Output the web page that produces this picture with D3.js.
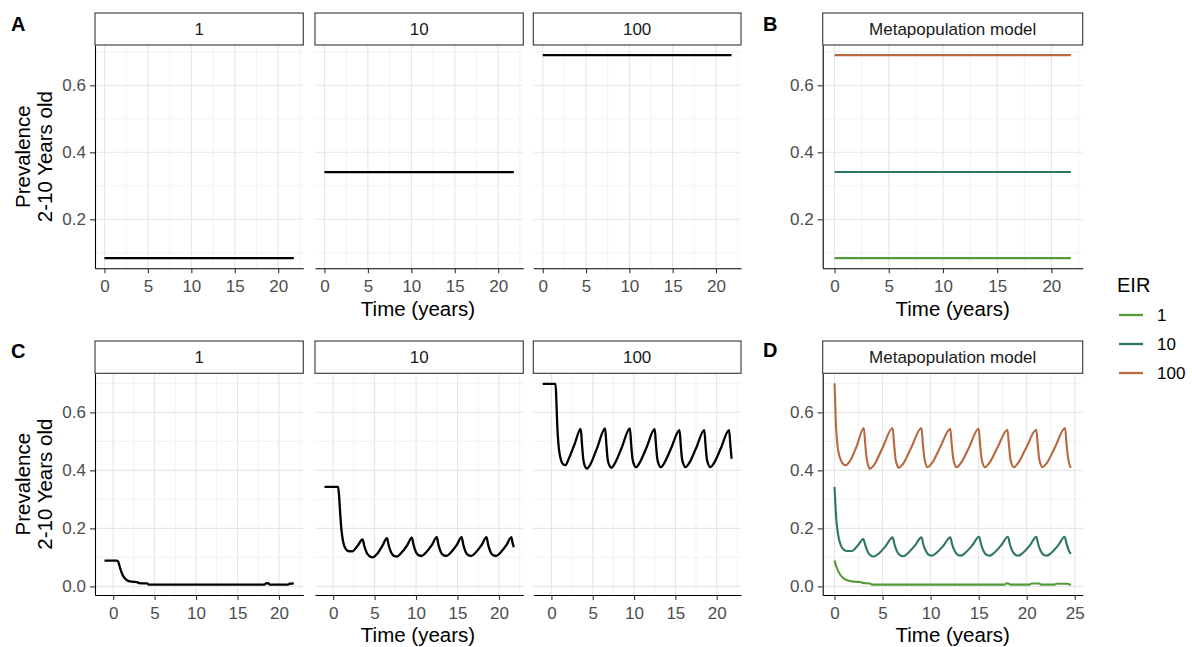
<!DOCTYPE html>
<html>
<head>
<meta charset="utf-8">
<script src="https://cdn.jsdelivr.net/npm/d3@7"></script>
<style>
  body { margin: 0; background: #ffffff; }
  svg text { font-family: "Liberation Sans", Arial, Helvetica, sans-serif; }
</style>
</head>
<body>
<svg id="chart" width="1192" height="647"></svg>
<script>
// ---------------- data ----------------
const eirLevels = ["1", "10", "100"];
const eirColours = ["#519b38", "#2c7662", "#b7683f"];

// equilibrium prevalence (2-10 years) for each EIR, before any intervention
const equilibriumPrev = [0.084, 0.341, 0.690];
const equilibriumSpan = [0, 21.8];

// individual-based model runs after the intervention starts: [time (years), prevalence]
const ind1 = [[-1.05,0.089],[0.5,0.089],[0.65,0.082],[0.85,0.062],[1.1,0.042],[1.4,0.028],[1.8,0.019],
  [2.3,0.016],[2.9,0.015],[3.1,0.011],[4.1,0.010],[4.3,0.006],[18.2,0.006],[18.45,0.010],[18.7,0.011],
  [18.9,0.006],[21.1,0.006],[21.3,0.009],[21.8,0.010]];

const ind10 = [[-1.05,0.343],[0.6,0.343],[0.72,0.31],[0.85,0.25],[1.0,0.195],[1.2,0.155],[1.45,0.132],
  [1.8,0.122],[2.3,0.121],[2.9,0.138],[3.55,0.162],
  [3.75,0.140],[4.05,0.116],[4.4,0.104],[4.8,0.100],[5.3,0.112],[5.9,0.138],[6.5,0.166],
  [6.7,0.142],[7.0,0.117],[7.35,0.105],[7.7,0.103],[8.2,0.115],[8.9,0.140],[9.5,0.168],
  [9.7,0.143],[10.0,0.118],[10.35,0.107],[10.7,0.105],[11.2,0.117],[11.9,0.142],[12.5,0.170],
  [12.7,0.144],[13.0,0.118],[13.35,0.107],[13.7,0.105],[14.2,0.117],[14.9,0.142],[15.5,0.170],
  [15.7,0.144],[16.0,0.118],[16.35,0.107],[16.7,0.105],[17.2,0.117],[17.9,0.142],[18.5,0.170],
  [18.7,0.144],[19.0,0.118],[19.35,0.107],[19.7,0.105],[20.2,0.117],[20.9,0.142],[21.5,0.170],
  [21.65,0.150],[21.8,0.135]];

const ind100 = [[-1.05,0.698],[0.5,0.698],[0.6,0.64],[0.7,0.56],[0.85,0.49],[1.0,0.455],[1.2,0.432],
  [1.45,0.420],[1.7,0.418],[2.1,0.44],[2.8,0.49],[3.55,0.543],
  [3.7,0.49],[3.85,0.44],[4.05,0.415],[4.3,0.406],[4.7,0.42],[5.5,0.475],[6.5,0.545],
  [6.65,0.49],[6.8,0.44],[7.0,0.418],[7.25,0.409],[7.65,0.423],[8.5,0.478],[9.5,0.545],
  [9.65,0.49],[9.8,0.442],[10.0,0.42],[10.25,0.411],[10.65,0.425],[11.5,0.478],[12.5,0.542],
  [12.65,0.49],[12.8,0.442],[13.0,0.42],[13.25,0.411],[13.65,0.425],[14.5,0.477],[15.5,0.539],
  [15.65,0.488],[15.8,0.441],[16.0,0.42],[16.25,0.411],[16.65,0.424],[17.5,0.476],[18.5,0.539],
  [18.65,0.488],[18.8,0.441],[19.0,0.42],[19.25,0.411],[19.65,0.424],[20.5,0.476],[21.5,0.539],
  [21.65,0.49],[21.8,0.44]];

// metapopulation model runs: [time (years), prevalence]
const meta1 = [[0,0.089],[0.15,0.072],[0.35,0.055],[0.6,0.04],[1.0,0.027],[1.5,0.019],[2.1,0.016],
  [2.7,0.015],[2.9,0.012],[3.7,0.010],[3.9,0.006],[17.7,0.006],[17.9,0.011],[18.1,0.010],[18.3,0.006],
  [20.3,0.006],[20.5,0.010],[21.3,0.010],[21.5,0.006],[22.9,0.006],[23.1,0.009],[24.2,0.009],[24.6,0.005]];

const meta10 = [[0,0.343],[0.08,0.29],[0.18,0.235],[0.3,0.195],[0.45,0.165],[0.65,0.142],[0.9,0.128],
  [1.3,0.122],[1.8,0.122],[2.4,0.14],[3.0,0.163],
  [3.2,0.142],[3.5,0.117],[3.8,0.106],[4.1,0.103],[4.6,0.113],[5.3,0.138],[6.05,0.169],
  [6.25,0.144],[6.55,0.118],[6.85,0.107],[7.15,0.104],[7.65,0.115],[8.35,0.14],[9.05,0.169],
  [9.25,0.144],[9.55,0.119],[9.85,0.108],[10.15,0.106],[10.65,0.117],[11.35,0.141],[12.05,0.169],
  [12.25,0.144],[12.55,0.119],[12.85,0.108],[13.15,0.106],[13.65,0.117],[14.35,0.142],[15.05,0.171],
  [15.25,0.145],[15.55,0.119],[15.85,0.108],[16.15,0.106],[16.65,0.117],[17.35,0.142],[18.05,0.171],
  [18.25,0.145],[18.55,0.119],[18.85,0.108],[19.15,0.106],[19.65,0.117],[20.35,0.142],[21.0,0.171],
  [21.2,0.145],[21.5,0.119],[21.8,0.108],[22.1,0.106],[22.6,0.117],[23.3,0.142],[23.95,0.171],
  [24.15,0.147],[24.4,0.122],[24.6,0.112]];

const meta100 = [[0,0.70],[0.05,0.66],[0.12,0.58],[0.22,0.52],[0.35,0.475],[0.55,0.445],[0.8,0.426],
  [1.15,0.418],[1.6,0.432],[2.3,0.483],[3.05,0.546],
  [3.2,0.49],[3.35,0.44],[3.5,0.418],[3.7,0.406],[4.1,0.418],[5.0,0.478],[6.05,0.546],
  [6.2,0.49],[6.35,0.44],[6.5,0.42],[6.7,0.409],[7.1,0.421],[8.0,0.48],[9.05,0.546],
  [9.2,0.49],[9.35,0.442],[9.5,0.421],[9.7,0.411],[10.1,0.423],[11.0,0.48],[12.05,0.543],
  [12.2,0.49],[12.35,0.442],[12.5,0.421],[12.7,0.411],[13.1,0.423],[14.0,0.479],[15.0,0.544],
  [15.15,0.49],[15.3,0.442],[15.45,0.421],[15.65,0.411],[16.05,0.423],[16.95,0.478],[18.0,0.54],
  [18.15,0.488],[18.3,0.441],[18.45,0.421],[18.65,0.411],[19.05,0.423],[19.95,0.478],[21.0,0.54],
  [21.15,0.488],[21.3,0.441],[21.45,0.421],[21.65,0.411],[22.05,0.423],[22.95,0.48],[24.0,0.546],
  [24.15,0.49],[24.3,0.445],[24.45,0.42],[24.6,0.409]];

// tick labels
const xTicksFacet = [0, 5, 10, 15, 20];
const xTicksMeta = [0, 5, 10, 15, 20, 25];
const yTicksTop = [0.2, 0.4, 0.6];
const yTicksBottom = [0.0, 0.2, 0.4, 0.6];

// ---------------- drawing ----------------
const svg = d3.select("#chart");

// ggplot-style 5% expansion of a data range
function expand(ext) {
  const w = ext[1] - ext[0];
  return [ext[0] - 0.05 * w, ext[1] + 0.05 * w];
}
// minor grid positions half-way between major breaks, kept inside the domain
function minorBreaks(ticks, domain) {
  const step = ticks[1] - ticks[0];
  const out = [];
  for (let v = ticks[0] - step / 2; v <= domain[1]; v += step) {
    if (v >= domain[0]) out.push(v);
  }
  return out;
}

const tickFont = 17, titleFont = 20.5;

function drawPanel(o) {
  const g = svg.append("g");
  const x = d3.scaleLinear().domain(o.xDomain).range([o.left, o.right]);
  const y = d3.scaleLinear().domain(o.yDomain).range([o.bottom, o.top]);

  const grid = g.append("g");
  grid.selectAll(".xmin").data(minorBreaks(o.xTicks, o.xDomain)).join("line")
    .attr("x1", d => x(d)).attr("x2", d => x(d)).attr("y1", o.top).attr("y2", o.bottom)
    .attr("stroke", "#efefef").attr("stroke-width", 0.8);
  grid.selectAll(".ymin").data(minorBreaks(o.yTicks, o.yDomain)).join("line")
    .attr("y1", d => y(d)).attr("y2", d => y(d)).attr("x1", o.left).attr("x2", o.right)
    .attr("stroke", "#efefef").attr("stroke-width", 0.8);
  grid.selectAll(".xmaj").data(o.xTicks).join("line")
    .attr("x1", d => x(d)).attr("x2", d => x(d)).attr("y1", o.top).attr("y2", o.bottom)
    .attr("stroke", "#e6e6e6").attr("stroke-width", 1.1);
  grid.selectAll(".ymaj").data(o.yTicks).join("line")
    .attr("y1", d => y(d)).attr("y2", d => y(d)).attr("x1", o.left).attr("x2", o.right)
    .attr("stroke", "#e6e6e6").attr("stroke-width", 1.1);

  const line = d3.line().x(d => x(d[0])).y(d => y(d[1])).curve(d3.curveMonotoneX);
  o.series.forEach(s => {
    g.append("path").datum(s.values)
      .attr("d", line)
      .attr("fill", "none")
      .attr("stroke", s.colour)
      .attr("stroke-width", s.width)
      .attr("stroke-linejoin", "round");
  });

  // x axis
  const xa = g.append("g").attr("transform", `translate(0,${o.bottom})`)
    .call(d3.axisBottom(x).tickValues(o.xTicks).tickSizeInner(5).tickSizeOuter(0).tickPadding(7)
      .tickFormat(d3.format("d")));
  styleAxis(xa);

  // y axis only on the first panel of a row
  if (o.showY) {
    const ya = g.append("g").attr("transform", `translate(${o.left},0)`)
      .call(d3.axisLeft(y).tickValues(o.yTicks).tickSizeInner(5).tickSizeOuter(0).tickPadding(4)
        .tickFormat(d3.format(".1f")));
    styleAxis(ya);
  }

  // facet strip
  g.append("rect")
    .attr("x", o.left).attr("y", o.stripTop)
    .attr("width", o.right - o.left).attr("height", o.top - o.stripTop)
    .attr("fill", "#ffffff").attr("stroke", "#333333").attr("stroke-width", 1.1);
  g.append("text")
    .attr("x", (o.left + o.right) / 2).attr("y", (o.stripTop + o.top) / 2)
    .attr("dy", "0.36em").attr("text-anchor", "middle")
    .attr("font-size", tickFont).attr("fill", "#1a1a1a")
    .text(o.strip);
}

function styleAxis(a) {
  a.select(".domain").attr("stroke", "#000000").attr("stroke-width", 1.1);
  a.selectAll(".tick line").attr("stroke", "#333333").attr("stroke-width", 1.1);
  a.selectAll(".tick text").attr("fill", "#4d4d4d").attr("font-size", tickFont)
    .attr("font-family", '"Liberation Sans", Arial, sans-serif');
}

// layout of the rows and columns
const facetCols = [[95, 303.3], [315, 523.3], [533.3, 741]];
const metaCol = [822.7, 1082.7];
const rows = [
  { stripTop: 13, top: 45, bottom: 268.3, tickY: 287, titleY: 308.5 },
  { stripTop: 341, top: 373.3, bottom: 595, tickY: 613, titleY: 635 }
];

const flatLine = v => [[equilibriumSpan[0], v], [equilibriumSpan[1], v]];
const indRuns = [ind1, ind10, ind100];
const metaRuns = [meta1, meta10, meta100];

// shared domains per row
const topX = expand(equilibriumSpan);
const topY = expand(d3.extent(equilibriumPrev));
const bottomX = expand(d3.extent(indRuns.flat(), d => d[0]));
const bottomY = expand(d3.extent(indRuns.concat(metaRuns).flat(), d => d[1]));
const metaX = expand(d3.extent(metaRuns.flat(), d => d[0]));

// Row 1: equilibrium
eirLevels.forEach((lev, i) => {
  const r = rows[0];
  drawPanel({
    left: facetCols[i][0], right: facetCols[i][1], top: r.top, bottom: r.bottom, stripTop: r.stripTop,
    xDomain: topX, yDomain: topY, xTicks: xTicksFacet, yTicks: yTicksTop,
    showY: i === 0, strip: lev,
    series: [{ values: flatLine(equilibriumPrev[i]), colour: "#000000", width: 2.3 }]
  });
});
drawPanel({
  left: metaCol[0], right: metaCol[1], top: rows[0].top, bottom: rows[0].bottom, stripTop: rows[0].stripTop,
  xDomain: topX, yDomain: topY, xTicks: xTicksFacet, yTicks: yTicksTop,
  showY: true, strip: "Metapopulation model",
  series: equilibriumPrev.map((v, i) => ({ values: flatLine(v), colour: eirColours[i], width: 2.1 }))
});

// Row 2: dynamics after intervention
eirLevels.forEach((lev, i) => {
  const r = rows[1];
  drawPanel({
    left: facetCols[i][0], right: facetCols[i][1], top: r.top, bottom: r.bottom, stripTop: r.stripTop,
    xDomain: bottomX, yDomain: bottomY, xTicks: xTicksFacet, yTicks: yTicksBottom,
    showY: i === 0, strip: lev,
    series: [{ values: indRuns[i], colour: "#000000", width: 2.3 }]
  });
});
drawPanel({
  left: metaCol[0], right: metaCol[1], top: rows[1].top, bottom: rows[1].bottom, stripTop: rows[1].stripTop,
  xDomain: metaX, yDomain: bottomY, xTicks: xTicksMeta, yTicks: yTicksBottom,
  showY: true, strip: "Metapopulation model",
  series: metaRuns.map((vals, i) => ({ values: vals, colour: eirColours[i], width: 2.1 }))
});

// axis titles
rows.forEach(r => {
  const facetMid = (facetCols[0][0] + facetCols[2][1]) / 2;
  [facetMid, (metaCol[0] + metaCol[1]) / 2].forEach(cx => {
    svg.append("text").attr("x", cx).attr("y", r.titleY).attr("dy", "0.36em")
      .attr("text-anchor", "middle").attr("font-size", titleFont).attr("fill", "#000")
      .text("Time (years)");
  });
  const cy = (r.top + r.bottom) / 2;
  const yt = svg.append("text").attr("transform", `translate(35,${cy}) rotate(-90)`)
    .attr("text-anchor", "middle").attr("font-size", titleFont).attr("fill", "#000");
  yt.append("tspan").attr("x", 0).attr("dy", "-0.25em").text("Prevalence");
  yt.append("tspan").attr("x", 0).attr("dy", "1.1em").text("2-10 Years old");
});

// panel tags
[["A", 11, 24], ["B", 763, 24], ["C", 11, 351], ["D", 763, 350]].forEach(([t, x, y]) => {
  svg.append("text").attr("x", x).attr("y", y).attr("dy", "0.36em")
    .attr("font-size", 20).attr("font-weight", "bold").attr("fill", "#000").text(t);
});

// legend
const legend = svg.append("g").attr("transform", "translate(1117,0)");
legend.append("text").attr("x", 0).attr("y", 285).attr("dy", "0.36em")
  .attr("font-size", 20).attr("fill", "#000").text("EIR");
const legendY = [315, 344, 373];
eirLevels.forEach((lev, i) => {
  legend.append("line").attr("x1", 2).attr("x2", 26).attr("y1", legendY[i]).attr("y2", legendY[i])
    .attr("stroke", eirColours[i]).attr("stroke-width", 2.3);
  legend.append("text").attr("x", 40).attr("y", legendY[i]).attr("dy", "0.36em")
    .attr("font-size", tickFont).attr("fill", "#000").text(lev);
});
</script>
</body>
</html>
